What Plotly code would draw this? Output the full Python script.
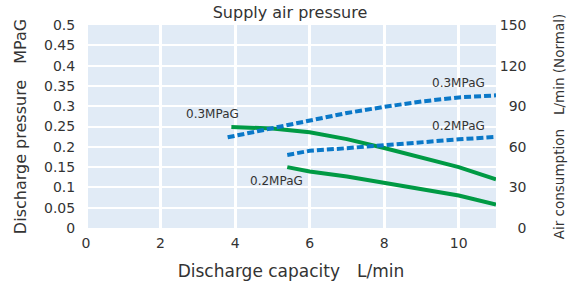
import plotly.graph_objects as go

# Discharge pressure (left axis, MPaG) vs discharge capacity (L/min)
p03_x = [3.9, 5, 6, 7, 8, 9, 10, 11]
p03_y = [0.249, 0.245, 0.236, 0.219, 0.197, 0.174, 0.150, 0.120]
p02_x = [5.4, 6, 7, 8, 9, 10, 11]
p02_y = [0.150, 0.139, 0.127, 0.112, 0.097, 0.080, 0.058]

# Air consumption (right axis, L/min Normal)
a03_x = [3.8, 5, 6, 7, 8, 9, 10, 11]
a03_y = [67, 73.5, 79, 85, 89.5, 93.5, 96.5, 98]
a02_x = [5.4, 6, 7, 8, 9, 10, 11]
a02_y = [54, 57, 59, 61.3, 63.5, 65.5, 67.3]

left_ticks = [0, 0.05, 0.1, 0.15, 0.2, 0.25, 0.3, 0.35, 0.4, 0.45, 0.5]
left_labels = ["0", "0.05", "0.1", "0.15", "0.2", "0.25", "0.3", "0.35", "0.4", "0.45", "0.5"]
right_ticks = [0, 30, 60, 90, 120, 150]
right_labels = ["\u2007\u20070", "\u200730", "\u200760", "\u200790", "120", "150"]
x_ticks = [0, 2, 4, 6, 8, 10]

GREEN = "#009a44"
BLUE = "#0a78c8"
TXT = "#333333"
FONT = "DejaVu Sans"

fig = go.Figure()
fig.add_trace(go.Scatter(x=p03_x, y=p03_y, mode="lines", line=dict(color=GREEN, width=4), yaxis="y", showlegend=False))
fig.add_trace(go.Scatter(x=p02_x, y=p02_y, mode="lines", line=dict(color=GREEN, width=4), yaxis="y", showlegend=False))
fig.add_trace(go.Scatter(x=a03_x, y=a03_y, mode="lines", line=dict(color=BLUE, width=4, dash="7px,3px"), yaxis="y2", showlegend=False))
fig.add_trace(go.Scatter(x=a02_x, y=a02_y, mode="lines", line=dict(color=BLUE, width=4, dash="7px,3px"), yaxis="y2", showlegend=False))

annos = [
    dict(x=3.39, y=0.281, text="0.3MPaG"),
    dict(x=10.0, y=0.357, text="0.3MPaG"),
    dict(x=10.0, y=0.251, text="0.2MPaG"),
    dict(x=5.1, y=0.116, text="0.2MPaG"),
]
for a in annos:
    fig.add_annotation(x=a["x"], y=a["y"], xref="x", yref="y", text=a["text"], showarrow=False,
                       font=dict(family=FONT, size=12, color=TXT))

fig.update_layout(
    width=572, height=286,
    margin=dict(l=86, r=76, t=25, b=58),
    paper_bgcolor="white",
    plot_bgcolor="#e1ebf6",
    font=dict(family=FONT, size=14, color=TXT),
    title=dict(text="Supply air pressure", x=0.507, xanchor="center", y=0.958, yanchor="middle",
               automargin=False, font=dict(family=FONT, size=16, color=TXT)),
    xaxis=dict(range=[0, 11], tickvals=x_ticks, showgrid=True, gridcolor="white", gridwidth=2.5,
               zeroline=True, zerolinecolor="white", zerolinewidth=2.5, automargin=False,
               ticks="outside", ticklen=2, tickcolor="rgba(0,0,0,0)",
               tickfont=dict(size=14, color=TXT),
               title=dict(text="Discharge capacity\u3000L/min", standoff=15, font=dict(size=17, color=TXT))),
    yaxis=dict(range=[0, 0.5], tickvals=left_ticks, ticktext=left_labels, showgrid=True, gridcolor="white", gridwidth=2,
               zeroline=False, ticks="outside", ticklen=7, tickcolor="rgba(0,0,0,0)", automargin=False,
               tickfont=dict(size=14, color=TXT),
               title=dict(text="Discharge pressure\u3000MPaG", standoff=13, font=dict(size=16, color=TXT))),
    yaxis2=dict(range=[0, 150], tickvals=right_ticks, ticktext=right_labels, overlaying="y", side="right",
                showgrid=False, zeroline=False, ticks="outside", ticklen=0, tickcolor="rgba(0,0,0,0)",
                automargin=False, tickfont=dict(size=14, color=TXT),
                title=dict(text="Air consumption\u3000L/min (Normal)", standoff=29, font=dict(size=13.5, color=TXT))),
)

fig.write_html("out.html", config={"displayModeBar": False},
               post_script="document.body.style.margin='0';")
